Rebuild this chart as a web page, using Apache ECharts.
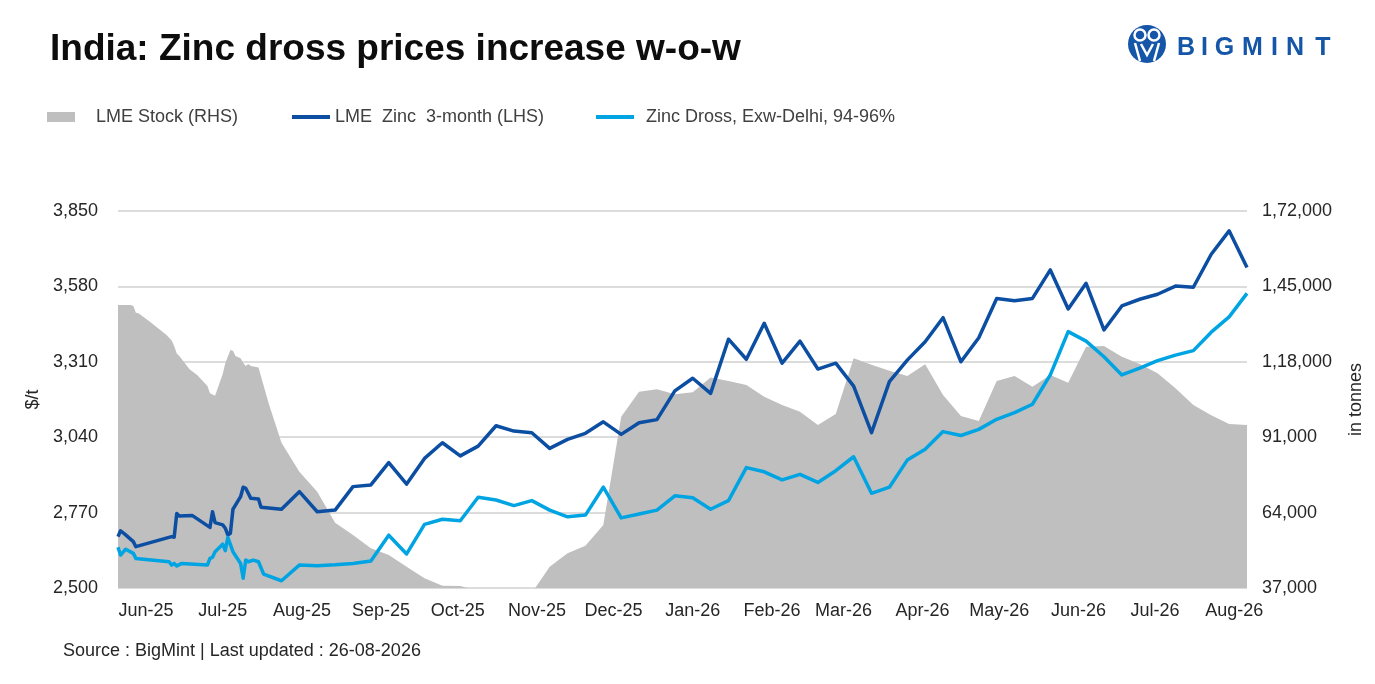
<!DOCTYPE html>
<html>
<head>
<meta charset="utf-8">
<title>India: Zinc dross prices increase w-o-w</title>
<script src="https://cdn.jsdelivr.net/npm/echarts@6.0.0/dist/echarts.min.js"></script>
<style>
  html, body { margin: 0; padding: 0; background: #fff; }
  #main { width: 1375px; height: 684px; }
</style>
</head>
<body>
<div id="main"></div>
<script>
// early part of the series (near daily prints, May-Jul 2025)
var earlyZincDates = ['2025-05-21','2025-05-22','2025-05-24','2025-05-27','2025-05-28','2025-06-11','2025-06-12','2025-06-13','2025-06-14','2025-06-19','2025-06-26','2025-06-27','2025-06-28','2025-07-01','2025-07-02','2025-07-03','2025-07-04','2025-07-05','2025-07-08','2025-07-09','2025-07-10','2025-07-12','2025-07-15','2025-07-16']
var earlyZinc = [2684,2705,2690,2666,2648,2684,2682,2767,2758,2760,2717,2773,2734,2726,2714,2690,2696,2782,2827,2861,2857,2821,2819,2789]

var earlyDrossDates = ['2025-05-21','2025-05-22','2025-05-24','2025-05-27','2025-05-28','2025-06-10','2025-06-11','2025-06-12','2025-06-13','2025-06-15','2025-06-25','2025-06-26','2025-06-27','2025-06-28','2025-07-01','2025-07-02','2025-07-03','2025-07-05','2025-07-08','2025-07-09','2025-07-10','2025-07-11','2025-07-13','2025-07-15','2025-07-17']
var earlyDross = [2646,2618,2639,2624,2606,2594,2582,2588,2579,2588,2582,2606,2610,2630,2657,2634,2681,2630,2588,2535,2600,2594,2600,2594,2550]

var earlyStockDates = ['2025-05-21','2025-05-26','2025-05-27','2025-05-28','2025-05-29','2025-06-02','2025-06-09','2025-06-11','2025-06-12','2025-06-13','2025-06-14','2025-06-18','2025-06-21','2025-06-25','2025-06-26','2025-06-28','2025-07-01','2025-07-02','2025-07-04','2025-07-05','2025-07-06','2025-07-08','2025-07-09','2025-07-10','2025-07-11','2025-07-12','2025-07-15','2025-07-19']
var earlyStock = [138300,138300,138000,135600,135400,132700,127600,125600,123700,121000,120100,115300,113300,109300,106700,105800,113600,117500,122200,122000,120100,119300,117700,116500,117200,116500,116000,103100]

// weekly prints from late Jul 2025
var weekDates = ['2025-07-24','2025-07-31','2025-08-07','2025-08-14','2025-08-21','2025-08-28','2025-09-04','2025-09-11','2025-09-18','2025-09-25',
  '2025-10-02','2025-10-09','2025-10-16','2025-10-23','2025-10-30','2025-11-06','2025-11-13','2025-11-20','2025-11-27','2025-12-04',
  '2025-12-11','2025-12-18','2025-12-25','2026-01-01','2026-01-08','2026-01-15','2026-01-22','2026-01-29','2026-02-05','2026-02-12',
  '2026-02-19','2026-02-26','2026-03-05','2026-03-12','2026-03-19','2026-03-26','2026-04-02','2026-04-09','2026-04-16','2026-04-23',
  '2026-04-30','2026-05-07','2026-05-14','2026-05-21','2026-05-28','2026-06-04','2026-06-11','2026-06-18','2026-06-25','2026-07-02',
  '2026-07-09','2026-07-16','2026-07-23','2026-07-30','2026-08-06']
var zincWeekly = [2782,2845,2773,2779,2863,2869,2949,2872,2964,3020,
  2973,3008,3081,3062,3056,3000,3032,3054,3095,3050,
  3092,3103,3206,3251,3197,3391,3319,3448,3305,3384,
  3284,3305,3223,3056,3239,3316,3382,3468,3310,3396,
  3537,3529,3537,3639,3499,3591,3424,3510,3534,3552,
  3581,3577,3695,3779,3648]
var drossWeekly = [2526,2582,2580,2583,2588,2597,2689,2622,2728,2746,
  2741,2825,2815,2795,2813,2779,2755,2761,2861,2751,
  2765,2779,2830,2823,2782,2813,2931,2916,2887,2907,
  2878,2920,2970,2839,2861,2958,2997,3060,3046,3068,
  3104,3128,3158,3263,3418,3384,3328,3263,3287,3314,
  3334,3350,3416,3471,3555]
var stockWeekly = [89000,78600,71500,60400,56000,51200,48800,44600,40500,37800,
  37700,36000,35500,35800,35200,44600,49400,52100,59600,98300,
  107300,108200,106400,107100,112400,111100,109700,105500,102500,100100,
  95400,99300,119300,116900,114800,112900,117100,106100,98600,96800,
  111100,112900,109100,113300,110500,123400,123700,119800,117200,113900,
  108500,102500,98900,95700,95400]

var monthNames = ['Jan','Feb','Mar','Apr','May','Jun','Jul','Aug','Sep','Oct','Nov','Dec']
var font = 'Liberation Sans, Arial, sans-serif'

function pairs(dates, vals) {
  return dates.map(function (d, i) { return [d, vals[i]] })
}

function fmtUS(v) {
  return String(Math.round(v)).replace(/\B(?=(\d{3})+(?!\d))/g, ',')
}

// indian grouping: 1,72,000
function fmtIN(v) {
  var s = String(Math.round(v))
  if (s.length <= 3) return s
  var rest = s.slice(0, -3).replace(/\B(?=(\d{2})+(?!\d))/g, ',')
  return rest + ',' + s.slice(-3)
}

var stockData = pairs(earlyStockDates, earlyStock).concat(pairs(weekDates, stockWeekly))
var zincData = pairs(earlyZincDates, earlyZinc).concat(pairs(weekDates, zincWeekly))
var drossData = pairs(earlyDrossDates, earlyDross).concat(pairs(weekDates, drossWeekly))

var darkBlue = '#0b4ea2'
var lightBlue = '#00a4e2'
var grey = '#bfbfbf'
var logoBlue = '#1656a8'

var myChart = echarts.init(document.getElementById('main'))

var legendText = { fontFamily: font, fontSize: 18, color: '#404040' }

var logoLetters = ['B','I','G','M','I','N','T']
var logoX = [1186, 1204.5, 1224.5, 1252.5, 1274.5, 1295, 1323]
var logo = logoLetters.map(function (ch, i) {
  return {
    type: 'text', x: logoX[i], y: 48,
    style: { text: ch, font: 'bold 25px ' + font, fill: logoBlue, align: 'center', verticalAlign: 'middle' }
  }
})

var option = {
  backgroundColor: '#fff',
  animation: false,
  textStyle: { fontFamily: font },
  title: {
    text: 'India: Zinc dross prices increase w-o-w',
    left: 45,
    top: 26,
    textStyle: { fontFamily: font, fontSize: 37, fontWeight: 'bold', color: '#0d0d0d' }
  },
  legend: [
    {
      data: ['LME Stock (RHS)'], left: 42, top: 103, icon: 'rect',
      itemWidth: 28, itemHeight: 10,
      textStyle: Object.assign({ padding: [0, 0, 0, 16] }, legendText)
    },
    {
      data: ['LME  Zinc  3-month (LHS)'], left: 287, top: 103, icon: 'rect',
      itemWidth: 38, itemHeight: 4,
      textStyle: legendText
    },
    {
      data: ['Zinc Dross, Exw-Delhi, 94-96%'], left: 591, top: 103, icon: 'rect',
      itemWidth: 38, itemHeight: 4,
      textStyle: Object.assign({ padding: [0, 0, 0, 7] }, legendText)
    }
  ],
  grid: { left: 118, right: 128, top: 211, bottom: 96, outerBoundsMode: 'none' },
  xAxis: {
    type: 'time',
    min: '2025-05-21',
    max: '2026-08-06',
    splitNumber: 15,
    axisLine: { show: false },
    axisTick: { show: false },
    splitLine: { show: false },
    axisLabel: {
      fontFamily: font, fontSize: 18, color: '#262626', margin: 14, hideOverlap: false,
      formatter: function (val) {
        var d = new Date(val)
        if (d.getDate() !== 1) return ''
        return monthNames[d.getMonth()] + '-' + String(d.getFullYear()).slice(2)
      }
    }
  },
  yAxis: [
    {
      type: 'value', position: 'left',
      min: 2500, max: 3850, interval: 270,
      name: '$/t', nameLocation: 'middle', nameGap: 69, nameRotate: 90,
      nameTextStyle: { fontFamily: font, fontSize: 18, color: '#262626' },
      axisLine: { show: false },
      axisTick: { show: false },
      axisLabel: { fontFamily: font, fontSize: 18, color: '#262626', margin: 20, formatter: fmtUS },
      splitLine: { lineStyle: { color: '#dcdcdc', width: 2 } }
    },
    {
      type: 'value', position: 'right',
      min: 37000, max: 172000, interval: 27000,
      name: 'in tonnes', nameLocation: 'middle', nameGap: 100, nameRotate: 90,
      nameTextStyle: { fontFamily: font, fontSize: 18, color: '#262626' },
      axisLine: { show: false },
      axisTick: { show: false },
      axisLabel: { fontFamily: font, fontSize: 18, color: '#262626', margin: 15, formatter: fmtIN },
      splitLine: { show: false }
    }
  ],
  series: [
    {
      name: 'LME Stock (RHS)',
      type: 'line',
      yAxisIndex: 1,
      data: stockData,
      symbol: 'none',
      lineStyle: { width: 0, color: grey },
      itemStyle: { color: grey },
      areaStyle: { color: grey, opacity: 1, origin: 'start' },
      z: 1
    },
    {
      name: 'LME  Zinc  3-month (LHS)',
      type: 'line',
      data: zincData,
      symbol: 'none',
      lineStyle: { width: 3.5, color: darkBlue, join: 'round' },
      itemStyle: { color: darkBlue },
      z: 3
    },
    {
      name: 'Zinc Dross, Exw-Delhi, 94-96%',
      type: 'line',
      data: drossData,
      symbol: 'none',
      lineStyle: { width: 3.5, color: lightBlue, join: 'round' },
      itemStyle: { color: lightBlue },
      z: 3
    }
  ],
  graphic: [
    {
      type: 'text', left: 63, top: 642,
      style: { text: 'Source : BigMint | Last updated : 26-08-2026', font: '18px ' + font, fill: '#262626' }
    },
    {
      type: 'group',
      children: [
        { type: 'circle', shape: { cx: 1147, cy: 44, r: 19 }, style: { fill: logoBlue } },
        { type: 'circle', shape: { cx: 1140, cy: 35, r: 5.5 }, style: { fill: logoBlue, stroke: '#fff', lineWidth: 2.5 } },
        { type: 'circle', shape: { cx: 1154, cy: 35, r: 5.5 }, style: { fill: logoBlue, stroke: '#fff', lineWidth: 2.5 } },
        {
          type: 'polyline',
          shape: { points: [[1135, 43], [1140, 61]] },
          style: { stroke: '#fff', lineWidth: 2.5, fill: null }
        },
        {
          type: 'polyline',
          shape: { points: [[1159, 43], [1154, 61]] },
          style: { stroke: '#fff', lineWidth: 2.5, fill: null }
        },
        {
          type: 'polyline',
          shape: { points: [[1141, 44], [1147, 55], [1153, 44]] },
          style: { stroke: '#fff', lineWidth: 2.5, fill: null }
        }
      ].concat(logo)
    }
  ]
}

myChart.setOption(option)
</script>
</body>
</html>
